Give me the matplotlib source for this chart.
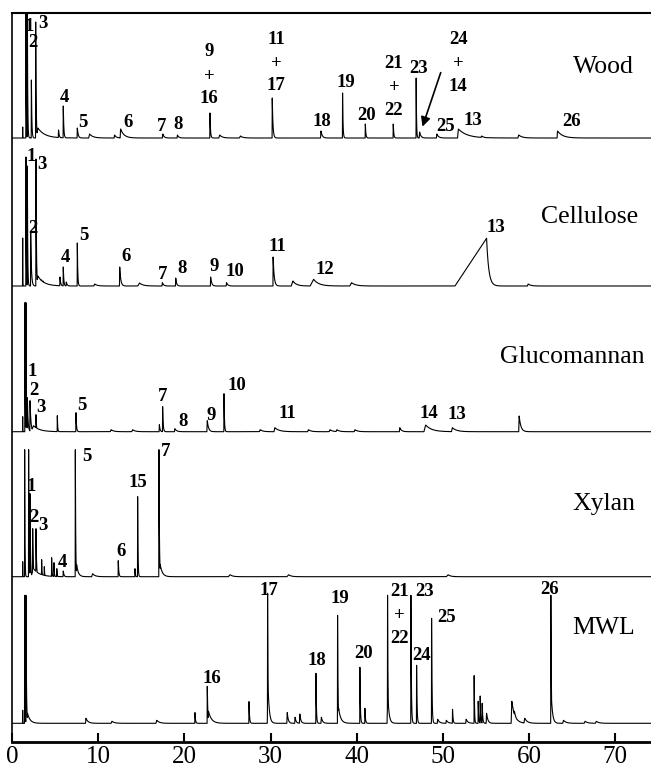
#!/usr/bin/env python3
"""
Stacked pyrolysis GC chromatograms: Wood, Cellulose, Glucomannan, Xylan, MWL
Peak positions/heights read from the reference figure.
"""

import matplotlib.pyplot as plt
import numpy as np

# --- Data: retention time (min), peak height, rise width, tail width ---
wood_rt = [1.24, 1.62, 1.78, 2.25, 2.75, 3.0, 3.3, 5.4, 5.95, 7.58, 9.0, 11.9, 12.6,
           17.5, 19.2, 22.97, 24.1, 26.5, 30.2, 35.85, 38.36, 41.0, 44.24, 46.9,
           47.3, 49.3, 51.8, 54.5, 58.8, 63.3]
wood_h = [11, 135, 135, 58, 116, 10, 4, 8, 32, 10, 4, 3, 9,
          4, 3, 25, 3, 2, 40, 7, 45, 14, 14, 60,
          6, 4, 9, 2, 3, 7]
wood_rise = [0.02, 0.02, 0.02, 0.02, 0.02, 0.2, 0.02, 0.03, 0.02, 0.03, 0.1, 0.05, 0.05,
             0.05, 0.05, 0.02, 0.1, 0.1, 0.02, 0.05, 0.02, 0.02, 0.02, 0.02,
             0.05, 0.05, 0.1, 0.1, 0.1, 0.05]
wood_tail = [0.01, 0.03, 0.04, 0.05, 0.05, 0.8, 0.05, 0.08, 0.06, 0.1, 0.4, 0.2, 0.4,
             0.15, 0.15, 0.06, 0.3, 0.3, 0.08, 0.15, 0.05, 0.06, 0.06, 0.04,
             0.15, 0.2, 1.0, 0.3, 0.4, 0.6]

cell_rt = [1.24, 1.62, 1.78, 2.17, 2.78, 3.0, 3.1, 3.4, 3.6, 5.57, 5.95, 6.3, 7.58,
           9.6, 12.5, 14.8, 17.45, 19.0, 23.05, 24.9, 30.3, 32.6, 35.0, 39.4,
           55.07, 59.9]
cell_h = [48, 129, 120, 53, 127, 10, 8, 6, 5, 9, 19, 4, 43,
          2, 19, 3, 3.3, 8, 9, 3.3, 29, 5, 6.7, 3.3,
          47.7, 2]
cell_rise = [0.02, 0.02, 0.02, 0.02, 0.02, 0.2, 0.02, 0.02, 0.02, 0.03, 0.02, 0.03, 0.02,
             0.1, 0.03, 0.2, 0.05, 0.03, 0.03, 0.05, 0.02, 0.2, 0.4, 0.2,
             3.67, 0.1]
cell_tail = [0.01, 0.03, 0.04, 0.08, 0.05, 0.7, 0.05, 0.05, 0.05, 0.08, 0.06, 0.1, 0.05,
             0.3, 0.12, 0.4, 0.15, 0.1, 0.12, 0.15, 0.12, 0.4, 0.6, 0.5,
             0.25, 0.3]

gluc_rt = [1.24, 1.5, 1.62, 1.78, 2.09, 2.5, 2.78, 5.26, 7.42, 11.5, 14.0, 17.1, 17.48,
           18.9, 22.66, 24.6, 28.8, 30.5, 34.4, 36.9, 37.7, 39.8, 45.0, 48.0, 51.1, 58.85]
gluc_h = [15, 129, 129, 34, 31, 6, 17, 16, 19, 2, 2, 7, 25,
          3, 11, 38, 2, 4, 2, 2, 2, 2, 4, 6.7, 4, 15.7]
gluc_rise = [0.02, 0.02, 0.02, 0.02, 0.02, 0.3, 0.02, 0.02, 0.02, 0.1, 0.1, 0.03, 0.02,
             0.05, 0.05, 0.02, 0.1, 0.1, 0.1, 0.1, 0.1, 0.1, 0.05, 0.2, 0.1, 0.05]
gluc_tail = [0.01, 0.03, 0.04, 0.08, 0.1, 0.7, 0.06, 0.04, 0.06, 0.3, 0.3, 0.08, 0.06,
             0.2, 0.15, 0.05, 0.3, 0.5, 0.3, 0.3, 0.3, 0.3, 0.2, 0.7, 0.5, 0.2]

xyl_rt = [1.24, 1.47, 1.93, 2.09, 2.4, 2.5, 2.78, 3.44, 3.75, 4.6, 4.87, 5.2, 5.95,
          7.35, 7.5, 9.35, 12.33, 14.27, 14.58, 17.05, 17.2, 25.3, 32.1, 50.6]
xyl_h = [15, 127, 127, 83, 48, 8, 48, 17, 10, 19, 14, 8, 5.7,
         127, 12, 3, 16, 8, 80, 127, 12, 2, 2, 2]
xyl_rise = [0.02, 0.02, 0.02, 0.02, 0.02, 0.3, 0.02, 0.02, 0.02, 0.02, 0.02, 0.02, 0.03,
            0.02, 0.05, 0.1, 0.02, 0.02, 0.02, 0.02, 0.05, 0.2, 0.2, 0.2]
xyl_tail = [0.01, 0.03, 0.04, 0.05, 0.06, 0.7, 0.06, 0.04, 0.04, 0.04, 0.04, 0.04, 0.08,
            0.04, 0.2, 0.3, 0.06, 0.04, 0.04, 0.05, 0.25, 0.3, 0.3, 0.3]

mwl_rt = [1.24, 1.47, 1.62, 1.8, 8.58, 11.6, 16.8, 21.23, 22.66, 22.8, 27.5, 29.66, 29.7,
          31.94, 32.85, 33.4, 35.27, 35.9, 37.78, 37.9, 40.37, 40.95, 43.58, 43.6,
          46.29, 46.95, 48.69, 49.4, 50.4, 51.12, 52.7, 53.63, 54.1, 54.33, 54.56,
          55.07, 58.0, 58.3, 59.5, 62.53, 62.6, 64.0, 66.5, 67.8]
mwl_h = [13, 128, 128, 10, 5, 2, 3, 10.7, 37, 12, 21.7, 130, 40,
         10.7, 6, 9.3, 50, 6, 108, 15, 56, 15, 128, 30,
         128, 58, 105, 4, 3, 14, 4, 47.7, 22, 27.3, 20,
         10, 22, 12, 5, 128, 25, 3, 2, 2]
mwl_rise = [0.02, 0.02, 0.02, 0.05, 0.05, 0.1, 0.1, 0.02, 0.02, 0.05, 0.02, 0.02, 0.08,
            0.05, 0.05, 0.05, 0.02, 0.05, 0.02, 0.08, 0.02, 0.02, 0.02, 0.08,
            0.02, 0.02, 0.02, 0.05, 0.05, 0.02, 0.05, 0.02, 0.02, 0.02, 0.02,
            0.05, 0.08, 0.05, 0.1, 0.02, 0.08, 0.1, 0.1, 0.1]
mwl_tail = [0.01, 0.03, 0.05, 0.3, 0.25, 0.3, 0.3, 0.06, 0.06, 0.35, 0.06, 0.05, 0.15,
            0.12, 0.12, 0.12, 0.05, 0.15, 0.05, 0.25, 0.05, 0.06, 0.05, 0.15,
            0.05, 0.05, 0.05, 0.2, 0.2, 0.06, 0.2, 0.04, 0.05, 0.05, 0.06,
            0.15, 0.35, 0.25, 0.3, 0.05, 0.15, 0.3, 0.3, 0.3]

samples = ["Wood", "Cellulose", "Glucomannan", "Xylan", "MWL"]

# --- Layout ---
X_MAX = 74.15
Y_MAX = 729
baselines = {"Wood": 603.7, "Cellulose": 455.7, "Glucomannan": 310,
             "Xylan": 165, "MWL": 18.4}
peaks = {
    "Wood": (wood_rt, wood_h, wood_rise, wood_tail),
    "Cellulose": (cell_rt, cell_h, cell_rise, cell_tail),
    "Glucomannan": (gluc_rt, gluc_h, gluc_rise, gluc_tail),
    "Xylan": (xyl_rt, xyl_h, xyl_rise, xyl_tail),
    "MWL": (mwl_rt, mwl_h, mwl_rise, mwl_tail),
}

# peak labels: (text, x in min, height above baseline)
labels = {
    "Wood": [("1", 1.95, 112), ("2", 2.44, 96), ("3", 3.56, 115), ("4", 6.03, 41),
             ("5", 8.2, 16), ("6", 13.46, 16), ("7", 17.37, 12), ("8", 19.22, 14),
             ("9", 22.89, 86.3), ("+", 22.89, 62), ("16", 22.89, 39.7),
             ("11", 30.63, 98.7), ("+", 30.63, 74.7), ("17", 30.63, 53),
             ("18", 35.96, 16.3), ("19", 38.75, 55.3), ("20", 41.15, 23),
             ("21", 44.32, 74.7), ("+", 44.32, 50.7), ("22", 44.32, 28),
             ("23", 47.22, 69.7), ("24", 51.78, 98.7), ("+", 51.78, 74.7),
             ("14", 51.78, 52), ("25", 50.35, 12), ("13", 53.52, 17.3),
             ("26", 64.93, 16.3)],
    "Cellulose": [("1", 2.17, 130), ("3", 3.45, 121.7), ("2", 2.4, 57.7),
                  ("4", 6.15, 28.7), ("5", 8.35, 51), ("6", 13.23, 29.3),
                  ("7", 17.48, 12), ("8", 19.69, 17.7), ("9", 23.43, 19.3),
                  ("10", 25.87, 14.3), ("11", 30.78, 40), ("12", 36.31, 16.7),
                  ("13", 56.15, 58.3)],
    "Glucomannan": [("1", 2.29, 60), ("2", 2.59, 41), ("3", 3.33, 24.4),
                    ("5", 8.12, 26.7), ("7", 17.44, 35), ("8", 19.8, 10),
                    ("9", 23.17, 16.7), ("10", 26.14, 46.7), ("11", 31.94, 18.4),
                    ("14", 48.41, 18.4), ("13", 51.59, 17.7)],
    "Xylan": [("1", 2.2, 90), ("2", 2.59, 59.4), ("3", 3.63, 50.7), ("4", 5.88, 14),
              ("5", 8.74, 120), ("6", 12.61, 25), ("15", 14.65, 94), ("7", 17.87, 125)],
    "MWL": [("16", 23.2, 45), ("17", 29.85, 132.6), ("18", 35.42, 62.6),
            ("19", 38.05, 125), ("20", 40.75, 69.3), ("21", 44.93, 131.6),
            ("+", 44.93, 107.3), ("22", 44.93, 85), ("23", 47.83, 131.6),
            ("24", 47.53, 68.3), ("25", 50.43, 106), ("26", 62.41, 134)],
}
name_pos = {"Wood": (68.6, 71.3), "Cellulose": (67.05, 69.3),
            "Glucomannan": (65.05, 74.4), "Xylan": (68.7, 72.4), "MWL": (68.6, 95)}


def trace(t, rt, h, rise, tail):
    # envelope of the individual peaks (ramp up, exponential tail down)
    y = np.zeros_like(t)
    for t0, a, r, k in zip(rt, h, rise, tail):
        p = np.zeros_like(t)
        left = (t <= t0) & (t > t0 - r)
        p[left] = a * (1 - (t0 - t[left]) / r)
        right = t > t0
        p[right] = a * np.exp(-(t[right] - t0) / k)
        y = np.maximum(y, p)
    return y


plt.rcParams["font.family"] = ["Liberation Serif", "DejaVu Serif"]
fig = plt.figure(figsize=(6.51, 7.73), dpi=100)
ax = fig.add_axes([12 / 651, 31.3 / 773, 639 / 651, 729 / 773])

grid = np.arange(0, X_MAX, 0.005)
for s in samples:
    rt, h, rise, tail = peaks[s]
    t = np.union1d(grid, rt)
    base = baselines[s]
    ax.plot(t, base + trace(t, rt, h, rise, tail), color="black", lw=0.8)
    for txt, x, dy in labels[s]:
        ax.text(x, base + dy, txt, ha="center", va="center",
                fontsize=13.5, fontweight="bold")
    nx, ny = name_pos[s]
    ax.text(nx, base + ny, s, ha="center", va="center", fontsize=18.5)

wb = baselines["Wood"]
ax.annotate("", xy=(47.53, wb + 8.7), xytext=(49.85, wb + 68),
            arrowprops=dict(arrowstyle="-|>", color="black", lw=1.2,
                            mutation_scale=14))

ax.set_xlim(0, X_MAX)
ax.set_ylim(0, Y_MAX)
ax.set_yticks([])
ax.set_xticks(range(0, 80, 10))
ax.tick_params(axis="x", direction="in", length=6.5, width=1.5,
               labelsize=18, pad=3)
ax.spines["right"].set_visible(False)
ax.spines["top"].set_linewidth(1.5)
ax.spines["left"].set_linewidth(1.2)
ax.spines["bottom"].set_linewidth(2)

fig.savefig("out.png", dpi=100, facecolor="white")
